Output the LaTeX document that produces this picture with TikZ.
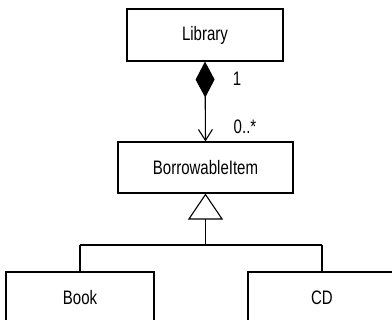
\documentclass[tikz,border=0pt]{standalone}
\usepackage{fontspec}
\setmainfont{Liberation Sans}[FakeStretch=0.77]
\usetikzlibrary{arrows.meta}
\begin{document}
\begin{tikzpicture}[x=1pt,y=-1pt,
  cls/.style={draw, line width=1.1pt, inner sep=0pt, font=\fontsize{19.5}{21}\selectfont},
  lbl/.style={inner sep=0pt, font=\fontsize{19.5}{21}\selectfont},
  conn/.style={line width=1.1pt}]
\useasboundingbox (0,0) rectangle (392,320);
\clip (0,0) rectangle (392,320);
\node[cls, minimum width=156pt, minimum height=52pt] (lib) at (205,35) {Library};
\node[cls, minimum width=175pt, minimum height=51pt] (bi) at (205.5,167.5) {BorrowableItem};
\node[cls, minimum width=148pt, minimum height=52pt] (book) at (80,298) {Book};
\node[cls, minimum width=148pt, minimum height=52pt] (cd) at (322,298) {CD};
\draw[conn, {Diamond[length=36pt,width=19pt]}-{Straight Barb[length=11pt,width=14pt]}] (lib.south) -- (bi.north);
\node[lbl] (one) at (237,79) {1};
\node[lbl] (many) at (245,127) {0..*};
\coordinate (j) at (205.5,245);
\draw[conn, -{Triangle[open,length=26pt,width=35pt]}] (j) -- (bi.south);
\draw[conn] (book.north |- j) -- (cd.north |- j);
\draw[conn] (book.north |- j) -- (book.north);
\draw[conn] (cd.north |- j) -- (cd.north);
\end{tikzpicture}
\end{document}
